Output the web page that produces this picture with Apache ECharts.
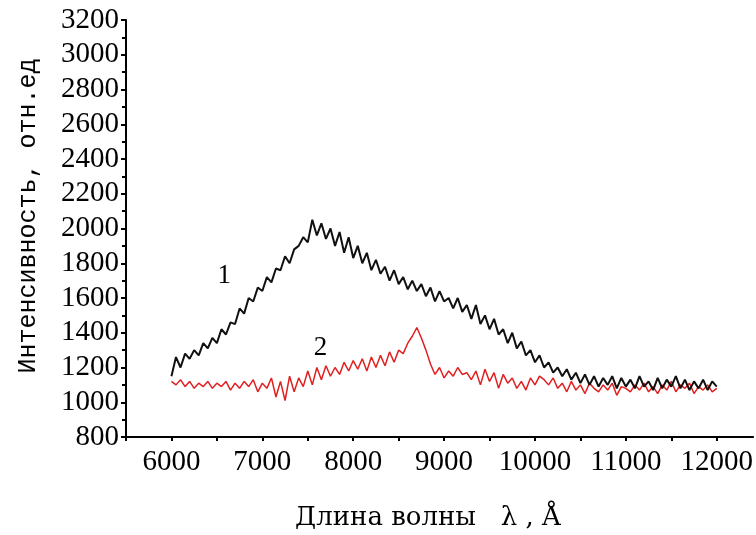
<!DOCTYPE html>
<html><head><meta charset="utf-8">
<script src="https://cdn.jsdelivr.net/npm/echarts@6/dist/echarts.min.js"></script>
<style>html,body{margin:0;padding:0;background:#fff}#c{width:756px;height:535px}</style>
</head><body><div id="c"></div>
<script>
const wavelengths = [6000,6050,6100,6150,6200,6250,6300,6350,6400,6450,6500,6550,6600,6650,6700,6750,6800,6850,6900,6950,
7000,7050,7100,7150,7200,7250,7300,7350,7400,7450,7500,7550,7600,7650,7700,7750,7800,7850,7900,7950,
8000,8050,8100,8150,8200,8250,8300,8350,8400,8450,8500,8550,8600,8650,8700,8750,8800,8850,8900,8950,
9000,9050,9100,9150,9200,9250,9300,9350,9400,9450,9500,9550,9600,9650,9700,9750,9800,9850,9900,9950,
10000,10050,10100,10150,10200,10250,10300,10350,10400,10450,10500,10550,10600,10650,10700,10750,10800,10850,10900,10950,
11000,11050,11100,11150,11200,11250,11300,11350,11400,11450,11500,11550,11600,11650,11700,11750,11800,11850,11900,11950,12000];
const spectrum1 = [1150,1260,1200,1280,1250,1300,1270,1340,1310,1370,1340,1420,1390,1460,1450,1540,1510,1600,1580,1660,
1640,1720,1690,1770,1760,1840,1800,1880,1900,1950,1920,2050,1960,2030,1940,2000,1900,1980,1860,1950,
1830,1900,1800,1860,1760,1820,1740,1780,1700,1760,1680,1720,1650,1700,1640,1680,1610,1660,1580,1640,
1580,1600,1540,1600,1520,1560,1480,1560,1450,1500,1420,1480,1390,1420,1340,1400,1310,1350,1270,1300,
1230,1270,1200,1230,1170,1200,1150,1190,1130,1170,1110,1160,1100,1150,1090,1140,1100,1150,1080,1140,
1090,1130,1080,1150,1090,1120,1070,1140,1080,1130,1090,1150,1080,1130,1070,1120,1080,1130,1070,1120,1090];
const spectrum2 = [1120,1100,1130,1090,1120,1080,1110,1090,1120,1080,1110,1090,1120,1070,1110,1080,1120,1090,1130,1060,
1110,1080,1140,1030,1120,1010,1150,1060,1140,1090,1180,1100,1200,1130,1210,1150,1200,1160,1230,1180,
1240,1190,1250,1180,1260,1200,1270,1210,1290,1230,1300,1280,1340,1380,1430,1370,1300,1220,1160,1200,
1140,1180,1150,1200,1160,1170,1130,1180,1100,1190,1120,1170,1080,1160,1110,1140,1080,1120,1070,1140,
1100,1150,1130,1100,1140,1080,1110,1060,1120,1070,1100,1050,1110,1080,1060,1100,1070,1110,1040,1090,
1080,1060,1100,1070,1110,1060,1090,1050,1100,1070,1120,1060,1100,1080,1110,1050,1090,1070,1100,1060,1080];
const xTickLabels = [6000,7000,8000,9000,10000,11000,12000];
const curveLabels = [{name:'1', x:6580, y:1730}, {name:'2', x:7640, y:1310}];

const s1 = wavelengths.map((w,i)=>[w, spectrum1[i]]);
const s2 = wavelengths.map((w,i)=>[w, spectrum2[i]]);
const font = '"Liberation Serif", "DejaVu Serif", serif';
const chart = echarts.init(document.getElementById('c'), null, {renderer:'canvas'});
chart.setOption({
  animation:false,
  backgroundColor:'#fff',
  grid:{left:126, right:2, top:20, bottom:98, containLabel:false},
  xAxis:{type:'value', min:5500, max:12400, interval:500,
    axisLine:{show:true, onZero:false, lineStyle:{color:'#000', width:2}},
    axisTick:{show:true, length:4, lineStyle:{color:'#000', width:2}},
    splitLine:{show:false},
    axisLabel:{color:'#000', fontFamily:font, fontSize:29, margin:11, showMaxLabel:false,
      formatter:v=> xTickLabels.includes(v) ? String(v) : ''}
  },
  yAxis:{type:'value', min:800, max:3200, interval:200,
    axisLine:{show:true, lineStyle:{color:'#000', width:2}},
    axisTick:{show:true, length:5, lineStyle:{color:'#000', width:2}},
    minorTick:{show:true, splitNumber:2, length:4, lineStyle:{color:'#000', width:2}},
    splitLine:{show:false},
    axisLabel:{color:'#000', fontFamily:font, fontSize:29, margin:7, formatter:v=>String(v)}
  },
  graphic:[
    {type:'text', x:28, y:216, rotation:Math.PI/2, style:{text:'Интенсивность, отн.ед', fill:'#000',
      font:'25px "Liberation Mono", monospace', align:'center', verticalAlign:'middle'}},
    {type:'text', x:428, y:518, style:{text:'Длина волны   λ , Å', fill:'#000',
      font:'26px "DejaVu Serif", serif', align:'center', verticalAlign:'middle'}}
  ],
  series:[
    {type:'line', data:s2, showSymbol:false, z:2,
      lineStyle:{color:'#e02020', width:1.5}},
    {type:'line', data:s1, showSymbol:false, z:3,
      lineStyle:{color:'#111', width:2},
      markPoint:{symbol:'circle', symbolSize:0,
        label:{show:true, color:'#000', fontFamily:font, fontSize:27, formatter:p=>p.name},
        data:curveLabels.map(c=>({name:c.name, coord:[c.x,c.y]}))}
    }
  ]
});
</script></body></html>
